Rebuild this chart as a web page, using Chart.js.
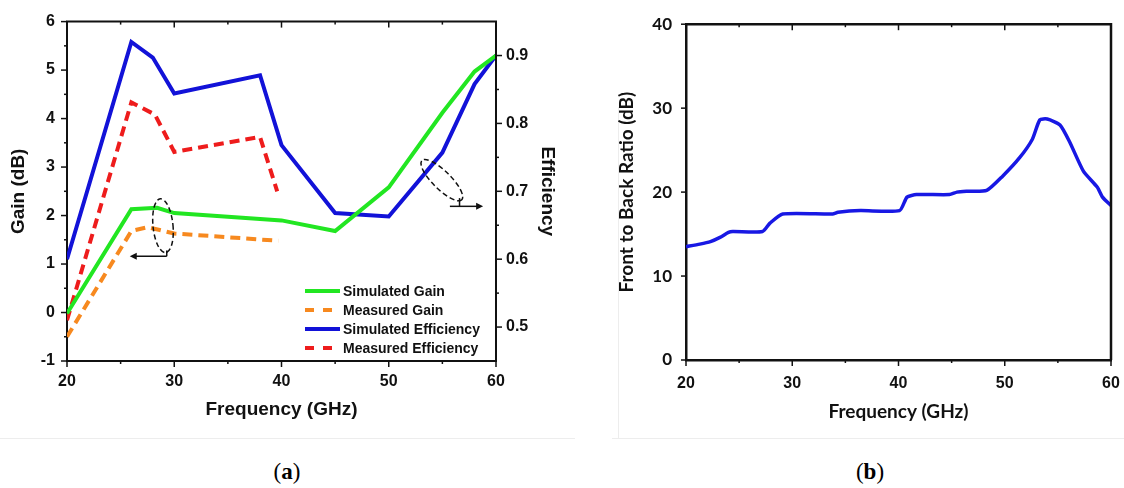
<!DOCTYPE html>
<html>
  <head>
    <title>Gain, Efficiency and Front to Back Ratio</title>
    <style>
      body { margin: 0; background: #fff; width: 1124px; height: 488px; position: relative; overflow: hidden; }
      #panelA { position: absolute; left: 0; top: 0; width: 575px; height: 438px; border-bottom: 1px solid #ededed; }
      #panelB { position: absolute; left: 612px; top: 0; width: 512px; height: 438px; border-bottom: 1px solid #ededed; }
      #edgeB { position: absolute; left: 618px; top: 107px; width: 0; height: 332px; border-left: 1px solid #ededed; }
      .cap { position: absolute; top: 459px; width: 60px; text-align: center;
             font-family: 'Liberation Serif', 'DejaVu Serif', serif; font-size: 23px; color: #000; }
    </style>
    <script src="https://cdn.jsdelivr.net/npm/chart.js"></script>
  </head>
  <body>
    <div id="panelA"><canvas id="chartA" width="575" height="438"></canvas></div>
    <div id="edgeB"></div>
    <div id="panelB"><canvas id="chartB" width="512" height="438"></canvas></div>
    <div class="cap" style="left:257px">(<b>a</b>)</div>
    <div class="cap" style="left:840px">(<b>b</b>)</div>

    <script>
      // (a) gain and efficiency
      var simGainFreq = [20, 26, 28.4, 30, 40, 45, 50, 55, 58, 60];
      var simGain = [-0.02, 2.13, 2.16, 2.05, 1.9, 1.68, 2.58, 4.12, 4.97, 5.3];
      var measGainFreq = [20, 26, 27.5, 30, 39.7];
      var measGain = [-0.5, 1.68, 1.76, 1.63, 1.48];
      var simEffFreq = [20, 26, 28, 30, 38, 40, 45, 50, 55, 58, 60];
      var simEff = [0.6, 0.92, 0.897, 0.844, 0.871, 0.768, 0.668, 0.663, 0.757, 0.858, 0.9];
      var measEffFreq = [20, 26, 28.2, 30, 38, 39.6];
      var measEff = [0.51, 0.831, 0.813, 0.758, 0.78, 0.7];

      // (b) front to back ratio
      var fbrFreq = [20, 21.3, 22.3, 23.2, 24.0, 24.4, 27.2, 27.9, 29.1, 33.8, 34.3, 36.4, 40.1, 40.8,
                     41.7, 44.8, 45.5, 46.4, 48.3, 49.8, 51.4, 52.6, 53.3, 54.0, 55.2, 56.1, 57.4, 58.7, 59.2, 60];
      var fbr = [13.5, 13.8, 14.1, 14.6, 15.2, 15.3, 15.3, 16.3, 17.4, 17.4, 17.6, 17.8, 17.8, 19.4,
                 19.7, 19.7, 20.0, 20.1, 20.2, 21.9, 24.1, 26.3, 28.6, 28.7, 28.0, 26.0, 22.5, 20.6, 19.4, 18.4];

      // tick labels and tick marks
      var freqTicks = [20, 30, 40, 50, 60];
      var freqMinor = [25, 35, 45, 55];
      var gainTicks = [-1, 0, 1, 2, 3, 4, 5, 6];
      var gainMinor = [-0.5, 0.5, 1.5, 2.5, 3.5, 4.5, 5.5];
      var effTicks = [0.5, 0.6, 0.7, 0.8, 0.9];
      var effMinor = [0.55, 0.65, 0.75, 0.85];
      var fbrTicks = [0, 10, 20, 30, 40];

      function pairs(xs, ys) {
        return xs.map(function (x, i) { return { x: x, y: ys[i] }; });
      }
      function fixTicks(list) {
        return function (s) { s.ticks = list.map(function (v) { return { value: v }; }); };
      }

      var arial = "'Liberation Sans', Arial, sans-serif";
      var calibri = "Lato, 'Open Sans', sans-serif";

      // box round the plot, with tick marks
      var framePlugin = {
        id: 'frame',
        afterDraw: function (chart, args, opts) {
          var ctx = chart.ctx, a = chart.chartArea;
          ctx.save();
          ctx.strokeStyle = opts.color;
          ctx.lineWidth = opts.width;
          ctx.beginPath();
          ctx.moveTo(a.left - 1, a.top);
          ctx.lineTo(a.right, a.top);
          ctx.lineTo(a.right, a.bottom);
          ctx.stroke();
          ctx.lineWidth = 1.5;
          opts.marks.forEach(function (m) {
            var s = chart.scales[m.scale];
            m.values.forEach(function (v) {
              var p = s.getPixelForValue(v);
              ctx.beginPath();
              if (m.edge === 'bottom') { ctx.moveTo(p, a.bottom); ctx.lineTo(p, a.bottom + m.len); }
              if (m.edge === 'top') { ctx.moveTo(p, a.top); ctx.lineTo(p, a.top + m.len); }
              if (m.edge === 'left') { ctx.moveTo(a.left, p); ctx.lineTo(a.left - m.len, p); }
              if (m.edge === 'right') { ctx.moveTo(a.right, p); ctx.lineTo(a.right + m.len, p); }
              ctx.stroke();
            });
          });
          ctx.restore();
        }
      };

      var legendPlugin = {
        id: 'boxLegend',
        afterDatasetsDraw: function (chart) {
          var ctx = chart.ctx, a = chart.chartArea;
          ctx.save();
          ctx.font = 'bold 14px ' + arial;
          ctx.textBaseline = 'middle';
          ctx.fillStyle = '#111';
          chart.data.datasets.forEach(function (ds, i) {
            var y = a.bottom - 70 + i * 19;
            ctx.strokeStyle = ds.borderColor;
            ctx.lineWidth = 4;
            ctx.setLineDash(ds.borderDash ? [9, 9] : []);
            ctx.beginPath();
            ctx.moveTo(a.right - 191, y);
            ctx.lineTo(a.right - 156, y);
            ctx.stroke();
            ctx.fillText(ds.label, a.right - 153, y + 1);
          });
          ctx.restore();
        }
      };

      // dashed ellipses with arrows pointing at the axis each group belongs to
      var notePlugin = {
        id: 'notes',
        afterDatasetsDraw: function (chart) {
          var ctx = chart.ctx, x = chart.scales.x, y = chart.scales.y;
          function arrow(x0, x1, yy) {
            var dir = x1 > x0 ? 1 : -1;
            ctx.setLineDash([]);
            ctx.beginPath();
            ctx.moveTo(x0, yy);
            ctx.lineTo(x1 - dir * 5, yy);
            ctx.stroke();
            ctx.beginPath();
            ctx.moveTo(x1, yy);
            ctx.lineTo(x1 - dir * 7, yy - 3.5);
            ctx.lineTo(x1 - dir * 7, yy + 3.5);
            ctx.closePath();
            ctx.fill();
          }
          ctx.save();
          ctx.strokeStyle = '#111';
          ctx.fillStyle = '#111';
          ctx.lineWidth = 1.5;

          ctx.setLineDash([5, 3]);
          ctx.beginPath();
          ctx.ellipse(x.getPixelForValue(28.95), y.getPixelForValue(1.79), 10, 27, -0.1, 0, Math.PI * 2);
          ctx.stroke();
          ctx.setLineDash([]);
          ctx.beginPath();
          ctx.moveTo(x.getPixelForValue(29.3), y.getPixelForValue(1.28));
          ctx.lineTo(x.getPixelForValue(29.3), y.getPixelForValue(1.16));
          ctx.stroke();
          arrow(x.getPixelForValue(29.3), x.getPixelForValue(25.85), y.getPixelForValue(1.16));

          ctx.setLineDash([5, 3]);
          ctx.beginPath();
          ctx.ellipse(x.getPixelForValue(54.95), y.getPixelForValue(2.73), 28, 9, 0.78, 0, Math.PI * 2);
          ctx.stroke();
          ctx.setLineDash([]);
          ctx.beginPath();
          ctx.moveTo(x.getPixelForValue(56.6), y.getPixelForValue(2.36));
          ctx.lineTo(x.getPixelForValue(56.6), y.getPixelForValue(2.19));
          ctx.stroke();
          arrow(x.getPixelForValue(55.7), x.getPixelForValue(58.8), y.getPixelForValue(2.19));
          ctx.restore();
        }
      };

      var tickFont = { family: arial, size: 16, weight: 'bold' };
      var titleFont = { family: arial, size: 19, weight: 'bold' };

      new Chart(document.getElementById('chartA'), {
        type: 'line',
        data: {
          datasets: [
            { label: 'Simulated Gain', data: pairs(simGainFreq, simGain), borderColor: '#22e622', yAxisID: 'y' },
            { label: 'Measured Gain', data: pairs(measGainFreq, measGain), borderColor: '#f7891f', borderDash: [10, 6], yAxisID: 'y' },
            { label: 'Simulated Efficiency', data: pairs(simEffFreq, simEff), borderColor: '#1212d8', yAxisID: 'y1' },
            { label: 'Measured Efficiency', data: pairs(measEffFreq, measEff), borderColor: '#ee1c1c', borderDash: [10, 6], yAxisID: 'y1' }
          ]
        },
        options: {
          responsive: false,
          animation: false,
          layout: { padding: { top: 15, left: 0, right: 0, bottom: 0 } },
          elements: { point: { radius: 0 }, line: { tension: 0, borderWidth: 4, fill: false } },
          plugins: {
            legend: { display: false },
            tooltip: { enabled: false },
            frame: {
              color: '#111', width: 2,
              marks: [
                { scale: 'x', edge: 'bottom', values: freqTicks, len: 6 },
                { scale: 'x', edge: 'bottom', values: freqMinor, len: 3 },
                { scale: 'x', edge: 'top', values: [30, 40, 50], len: 6 },
                { scale: 'x', edge: 'top', values: freqMinor, len: 3 },
                { scale: 'y', edge: 'left', values: gainTicks, len: 6 },
                { scale: 'y', edge: 'left', values: gainMinor, len: 3 },
                { scale: 'y1', edge: 'right', values: effTicks, len: 6 },
                { scale: 'y1', edge: 'right', values: effMinor, len: 3 }
              ]
            }
          },
          scales: {
            x: {
              type: 'linear', position: 'bottom', min: 20, max: 60,
              afterBuildTicks: fixTicks(freqTicks),
              afterFit: function (s) { s.height = 77; s.paddingLeft = 0; s.paddingRight = 0; },
              ticks: { font: tickFont, color: '#111', padding: 11, maxRotation: 0, autoSkip: false },
              grid: { display: false, drawTicks: false },
              border: { display: true, color: '#111', width: 2 },
              title: { display: true, text: 'Frequency (GHz)', font: titleFont, color: '#111', padding: { top: 0, bottom: 17 } }
            },
            y: {
              position: 'left', min: -1, max: 6,
              afterBuildTicks: fixTicks(gainTicks),
              afterFit: function (s) { s.width = 67; },
              ticks: { font: tickFont, color: '#111', padding: 12 },
              grid: { display: false, drawTicks: false },
              border: { display: true, color: '#111', width: 2 },
              title: { display: true, text: 'Gain (dB)', font: titleFont, color: '#111', padding: { top: 7, bottom: 0 } }
            },
            y1: {
              position: 'right', min: 0.45, max: 0.95,
              afterBuildTicks: fixTicks(effTicks),
              afterFit: function (s) { s.width = 79; },
              ticks: { font: tickFont, color: '#111', padding: 10, callback: function (v) { return v.toFixed(1); } },
              grid: { display: false, drawTicks: false },
              border: { display: true, color: '#111', width: 2 },
              title: { display: true, text: 'Efficiency', font: titleFont, color: '#111', padding: { top: 16, bottom: 0 } }
            }
          }
        },
        plugins: [framePlugin, legendPlugin, notePlugin]
      });

      new Chart(document.getElementById('chartB'), {
        type: 'line',
        data: {
          datasets: [
            { label: 'Front to Back Ratio', data: pairs(fbrFreq, fbr), borderColor: '#1818e4', borderWidth: 3.5 }
          ]
        },
        options: {
          responsive: false,
          animation: false,
          layout: { padding: { top: 15, left: 0, right: 13, bottom: 0 } },
          elements: { point: { radius: 0 }, line: { tension: 0.2, fill: false, borderJoinStyle: 'round' } },
          plugins: {
            legend: { display: false },
            tooltip: { enabled: false },
            frame: {
              color: '#111', width: 2.5,
              marks: [
                { scale: 'x', edge: 'bottom', values: freqTicks, len: 6 },
                { scale: 'x', edge: 'bottom', values: freqMinor, len: 3 },
                { scale: 'x', edge: 'top', values: [30, 40, 50], len: 6 },
                { scale: 'x', edge: 'top', values: freqMinor, len: 3 },
                { scale: 'y', edge: 'left', values: fbrTicks, len: 5 }
              ]
            }
          },
          scales: {
            x: {
              type: 'linear', position: 'bottom', min: 20, max: 60,
              afterBuildTicks: fixTicks(freqTicks),
              afterFit: function (s) { s.height = 78; s.paddingLeft = 0; s.paddingRight = 0; },
              ticks: { font: tickFont, color: '#111', padding: 14, maxRotation: 0, autoSkip: false },
              grid: { display: false, drawTicks: false },
              border: { display: true, color: '#111', width: 2.5 },
              title: { display: true, text: 'Frequency (GHz)', font: { family: calibri, size: 19, weight: 'bold' }, color: '#111', padding: { top: 0, bottom: 15 } }
            },
            y: {
              position: 'left', min: 0, max: 40,
              afterBuildTicks: fixTicks(fbrTicks),
              afterFit: function (s) { s.width = 74; },
              ticks: { font: { family: calibri, size: 17, weight: 'bold' }, color: '#111', padding: 14 },
              grid: { display: false, drawTicks: false },
              border: { display: true, color: '#111', width: 2.5 },
              title: { display: true, text: 'Front to Back Ratio (dB)', font: { family: calibri, size: 19, weight: 'bold' }, color: '#111', padding: { top: 3, bottom: 0 } }
            }
          }
        },
        plugins: [framePlugin]
      });
    </script>
  </body>
</html>
